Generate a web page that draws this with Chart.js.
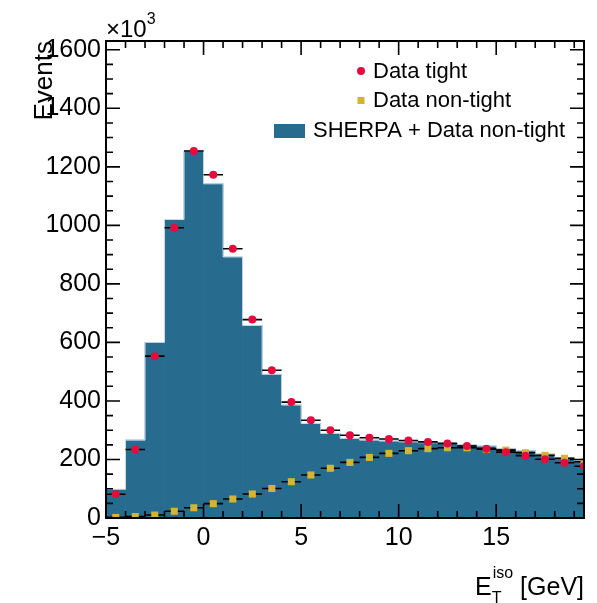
<!DOCTYPE html>
<html>
<head>
<meta charset="utf-8">
<script src="https://cdn.jsdelivr.net/npm/chart.js@4"></script>
<style>
  html, body { margin: 0; padding: 0; background: #fff; }
  canvas { display: block; }
</style>
</head>
<body>
<canvas id="isoChart" width="597" height="603"></canvas>
<script>
// Isolation energy spectrum, 1 GeV bins, event counts in units of 10^3.
const binCenters = [-4.5, -3.5, -2.5, -1.5, -0.5, 0.5, 1.5, 2.5, 3.5, 4.5, 5.5, 6.5, 7.5,
                    8.5, 9.5, 10.5, 11.5, 12.5, 13.5, 14.5, 15.5, 16.5, 17.5, 18.5, 19.5];
const sherpaPlusNonTight = [98, 266, 600, 1020, 1254, 1142, 892, 658, 491, 386, 323, 289, 272,
                            266, 263, 260, 257, 255, 251, 246, 238, 230, 218, 206, 195];
const dataTight = [81, 234, 553, 992, 1254, 1173, 920, 678, 505, 396, 334, 300, 283,
                   274, 270, 265, 260, 255, 246, 237, 225, 213, 201, 189, 177];
const dataNonTight = [2, 5, 10, 23, 35, 49, 65, 82, 101, 124, 147, 170, 190,
                      207, 221, 230, 237, 240, 240, 235, 232, 223, 214, 204, 192];
const xTicks = [-5, 0, 5, 10, 15];
const yTicks = [0, 200, 400, 600, 800, 1000, 1200, 1400, 1600];

const FONT = '"Liberation Sans", Arial, Helvetica, sans-serif';
const BLUE = '#276b8f';
const RED = '#e60a3e';
const GOLD = '#d4b435';
const BIN_WIDTH = 1;

const toPoints = values => binCenters.map((x, i) => ({ x: x, y: values[i] }));

// Frame with inward ticks on all four sides, horizontal bin-width error bars,
// histogram outline, legend and axis titles.
const rootStyle = {
  id: 'rootStyle',
  beforeDatasetDraw(chart, args) {
    const ds = chart.data.datasets[args.index];
    if (!ds.errorBars) return;
    const { ctx, chartArea: a, scales: { x, y } } = chart;
    ctx.save();
    ctx.beginPath();
    ctx.rect(a.left, a.top, a.right - a.left, a.bottom - a.top);
    ctx.clip();
    ctx.strokeStyle = '#000';
    ctx.lineWidth = 1.6;
    ctx.beginPath();
    ds.data.forEach(p => {
      const py = y.getPixelForValue(p.y);
      ctx.moveTo(x.getPixelForValue(p.x - BIN_WIDTH / 2), py);
      ctx.lineTo(x.getPixelForValue(p.x + BIN_WIDTH / 2), py);
    });
    ctx.stroke();
    ctx.restore();
  },
  afterDatasetDraw(chart, args) {
    // thin light step outline along the histogram tops
    if (args.meta.type !== 'bar') return;
    const { ctx, chartArea: a } = chart;
    const bars = args.meta.data;
    ctx.save();
    ctx.beginPath();
    ctx.rect(a.left, a.top, a.right - a.left, a.bottom - a.top);
    ctx.clip();
    ctx.strokeStyle = '#c9dbe5';
    ctx.lineWidth = 1;
    ctx.beginPath();
    bars.forEach((b, i) => {
      const l = b.x - b.width / 2, r = b.x + b.width / 2;
      if (i === 0) ctx.moveTo(l, b.base); 
      ctx.lineTo(l, b.y);
      ctx.lineTo(r, b.y);
    });
    ctx.stroke();
    ctx.restore();
  },
  afterDraw(chart) {
    const { ctx, chartArea: a, scales: { x, y } } = chart;
    ctx.save();
    ctx.strokeStyle = '#000';
    ctx.lineWidth = 1.6;

    // ticks
    ctx.beginPath();
    for (let v = x.min; v <= x.max; v += 1) {
      const px = x.getPixelForValue(v);
      const len = xTicks.includes(v) ? 14 : 7;
      ctx.moveTo(px, a.bottom); ctx.lineTo(px, a.bottom - len);
      ctx.moveTo(px, a.top); ctx.lineTo(px, a.top + len);
    }
    for (let v = 0; v <= y.max; v += 50) {
      const py = y.getPixelForValue(v);
      const len = yTicks.includes(v) ? 14 : 7;
      ctx.moveTo(a.left, py); ctx.lineTo(a.left + len, py);
      ctx.moveTo(a.right, py); ctx.lineTo(a.right - len, py);
    }
    ctx.stroke();

    ctx.lineWidth = 2;
    ctx.strokeRect(a.left, a.top, a.right - a.left, a.bottom - a.top);

    // legend
    ctx.fillStyle = '#000';
    ctx.font = '22px ' + FONT;
    ctx.textBaseline = 'middle';
    ctx.textAlign = 'left';
    ctx.fillText('Data tight', 373, 72);
    ctx.fillText('Data non-tight', 373, 101);
    ctx.fillText('SHERPA + Data non-tight', 313, 131);
    ctx.fillStyle = RED;
    ctx.beginPath(); ctx.arc(361, 71, 4, 0, Math.PI * 2); ctx.fill();
    ctx.fillStyle = GOLD;
    ctx.fillRect(357.5, 97, 7, 7);
    ctx.fillStyle = BLUE;
    ctx.fillRect(274, 124, 31, 14);

    // y title and exponent
    ctx.fillStyle = '#000';
    ctx.save();
    ctx.translate(52, 41);
    ctx.rotate(-Math.PI / 2);
    ctx.font = '26px ' + FONT;
    ctx.textAlign = 'right';
    ctx.textBaseline = 'alphabetic';
    ctx.fillText('Events', 0, 0);
    ctx.restore();

    ctx.textBaseline = 'alphabetic';
    ctx.textAlign = 'left';
    ctx.font = '24px ' + FONT;
    ctx.fillText('\u00d710', 106, 37);
    const wx = ctx.measureText('\u00d710').width;
    ctx.font = '16px ' + FONT;
    ctx.fillText('3', 106 + wx, 24);

    // x title: E_T^iso [GeV]
    ctx.font = '25px ' + FONT;
    const wE = ctx.measureText('E').width;
    const wUnit = ctx.measureText(' [GeV]').width;
    ctx.font = '16px ' + FONT;
    const wIso = ctx.measureText('iso').width;
    const startX = a.right - wUnit - wIso - wE - 1;
    ctx.font = '25px ' + FONT;
    ctx.fillText('E', startX, 595);
    ctx.fillText(' [GeV]', startX + wE + wIso + 1, 595);
    ctx.font = '16px ' + FONT;
    ctx.fillText('T', startX + wE, 603);
    ctx.fillText('iso', startX + wE + 1, 578);
    ctx.restore();
  }
};

new Chart(document.getElementById('isoChart'), {
  type: 'bar',
  data: {
    datasets: [
      {
        type: 'scatter',
        label: 'Data tight',
        data: toPoints(dataTight),
        pointStyle: 'circle',
        pointRadius: 4,
        pointBackgroundColor: RED,
        pointBorderWidth: 0,
        errorBars: true,
        order: 1
      },
      {
        type: 'scatter',
        label: 'Data non-tight',
        data: toPoints(dataNonTight),
        pointStyle: 'rect',
        pointRadius: 5,
        pointBackgroundColor: GOLD,
        pointBorderWidth: 0,
        errorBars: true,
        order: 2
      },
      {
        type: 'bar',
        label: 'SHERPA + Data non-tight',
        data: toPoints(sherpaPlusNonTight),
        backgroundColor: BLUE,
        borderWidth: 0,
        barPercentage: 1,
        categoryPercentage: 1,
        order: 3
      }
    ]
  },
  options: {
    responsive: false,
    animation: false,
    devicePixelRatio: 1,
    layout: { padding: { left: 0, right: 13, top: 41, bottom: 0 } },
    plugins: { legend: { display: false }, tooltip: { enabled: false } },
    scales: {
      x: {
        type: 'linear',
        min: -5,
        max: 19.5,
        offset: false,
        grid: { display: false, drawTicks: false },
        border: { display: false },
        ticks: {
          color: '#000',
          font: { family: FONT, size: 25 },
          padding: 5,
          maxRotation: 0,
          autoSkip: false,
          callback: v => v < 0 ? '\u2212' + Math.abs(v) : String(v)
        },
        afterBuildTicks: s => { s.ticks = xTicks.map(v => ({ value: v })); },
        afterFit: s => { s.height = 85; }
      },
      y: {
        type: 'linear',
        min: 0,
        max: 1630,
        grid: { display: false, drawTicks: false },
        border: { display: false },
        ticks: {
          color: '#000',
          font: { family: FONT, size: 25 },
          padding: 5,
          autoSkip: false,
          callback: v => String(v)
        },
        afterBuildTicks: s => { s.ticks = yTicks.map(v => ({ value: v })); },
        afterFit: s => { s.width = 106; }
      }
    }
  },
  plugins: [rootStyle]
});
</script>
</body>
</html>
